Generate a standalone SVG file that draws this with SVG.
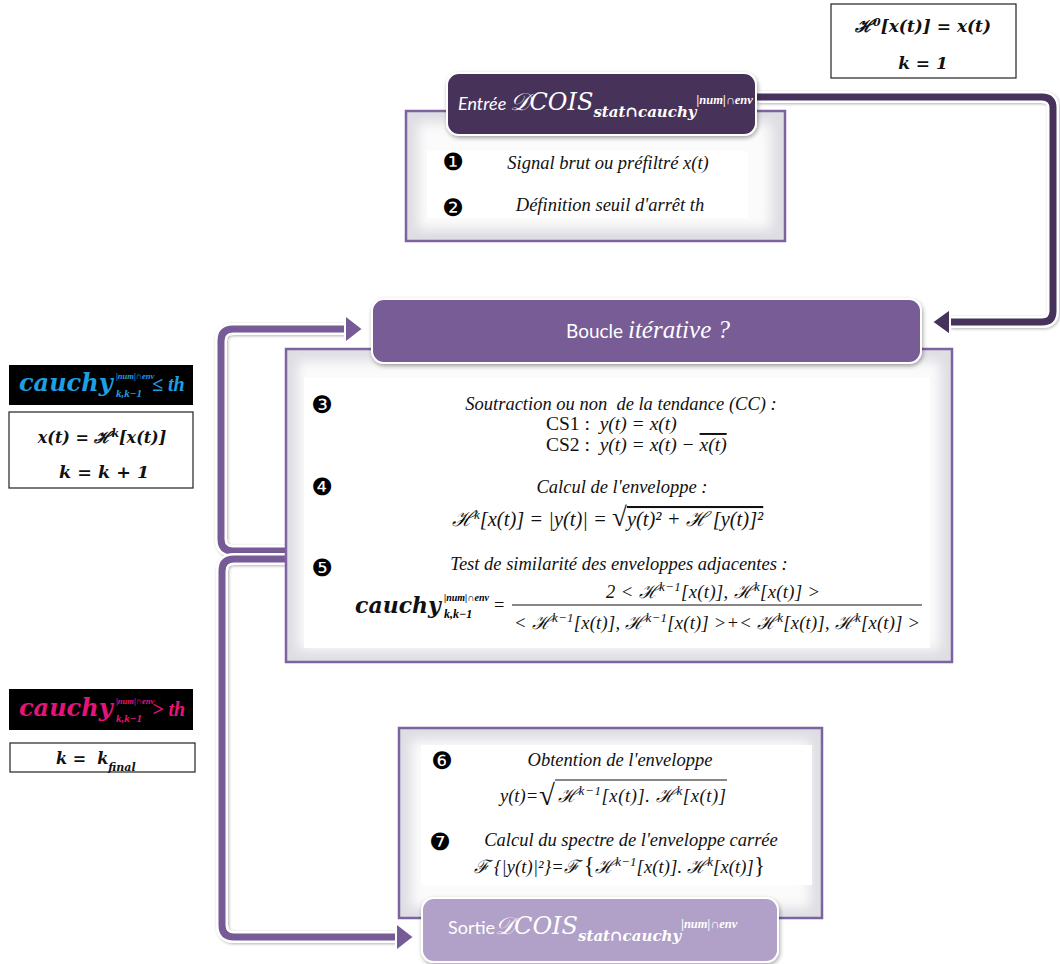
<svg xmlns="http://www.w3.org/2000/svg" width="1060" height="964" viewBox="0 0 1060 964">
<style>
.bi{font-family:'Liberation Serif','DejaVu Serif',serif;font-style:italic;font-size:18.5px;fill:#111}
.up{font-style:normal}
.sp{font-size:13px}
.m{font-family:'DejaVu Serif','Liberation Serif',serif;font-style:italic;font-weight:bold;fill:#111}
.ms{font-family:'Liberation Serif','DejaVu Serif',serif;font-style:italic;font-weight:bold}
.num{font-family:'DejaVu Sans',sans-serif;font-size:24px;fill:#000}
.hd{font-family:Lato,'Open Sans','Liberation Sans',sans-serif;fill:#fff}
.sc{font-family:'DejaVu Serif','Liberation Serif',serif;font-style:italic;fill:#fff}
.wbox{fill:#fff;stroke:#222;stroke-width:1.2}
.kbox{fill:#000}
.outer{stroke:#7d62a0;stroke-width:2.5;fill:#dedde3}
.inner{fill:#fbfbfb;filter:url(#blur)}
.txtarea{fill:#fff}
.glow{fill:none;stroke:#fff;stroke-width:12;filter:url(#lsh)}
.blue{fill:#1e9fe3}
.mag{fill:#e3147a}
.rule{stroke:#111;stroke-width:1.2}
</style>
<defs>
<filter id="blur" x="-5%" y="-5%" width="110%" height="110%"><feGaussianBlur stdDeviation="6"/></filter>
<filter id="sh" x="-10%" y="-20%" width="120%" height="150%"><feDropShadow dx="1" dy="2" stdDeviation="2" flood-color="#000" flood-opacity="0.35"/></filter>
<filter id="lsh" x="-10%" y="-10%" width="120%" height="120%"><feDropShadow dx="1" dy="1" stdDeviation="1.5" flood-color="#000" flood-opacity="0.3"/></filter>
<marker id="ahD" markerUnits="userSpaceOnUse" viewBox="-3 -17 24 34" markerWidth="24" markerHeight="34" refX="0" refY="0" orient="auto">
<path d="M0,-13 L18,0 L0,13 Z" fill="#46325a" stroke="#fff" stroke-width="2" stroke-linejoin="round"/>
</marker>
<marker id="ahP" markerUnits="userSpaceOnUse" viewBox="-3 -17 24 34" markerWidth="24" markerHeight="34" refX="0" refY="0" orient="auto">
<path d="M0,-14 L18,0 L0,14 Z" fill="#775b96" stroke="#fff" stroke-width="2" stroke-linejoin="round"/>
</marker>
</defs>
<rect width="1060" height="964" fill="#fff"/>

<g id="connectors">
<path class="glow" d="M757 97 H1042 Q1053 97 1053 108 V311 Q1053 322 1042 322 H950"/>
<path d="M757 97 H1042 Q1053 97 1053 108 V311 Q1053 322 1042 322 H950" fill="none" stroke="#46325a" stroke-width="7" marker-end="url(#ahD)"/>
<path class="glow" d="M288 551 H233 Q221 551 221 539 V341 Q221 329 233 329 H345"/>
<path d="M288 551 H233 Q221 551 221 539 V341 Q221 329 233 329 H345" fill="none" stroke="#775b96" stroke-width="7" marker-end="url(#ahP)"/>
<path class="glow" d="M288 559 H234 Q222 559 222 571 V925 Q222 937 234 937 H396"/>
<path d="M288 559 H234 Q222 559 222 571 V925 Q222 937 234 937 H396" fill="none" stroke="#775b96" stroke-width="7" marker-end="url(#ahP)"/>
</g>

<g id="init-box">
<rect class="wbox" x="831" y="4" width="185" height="74"/>
<text x="923" y="32" text-anchor="middle" class="m" font-size="17">ℋ<tspan baseline-shift="super" font-size="11">0</tspan>[x(t)] = x(t)</text>
<text x="923" y="69" text-anchor="middle" class="m" font-size="17">k = 1</text>
</g>

<g id="entree-content">
<rect class="outer" x="406" y="111" width="379" height="130"/>
<rect class="inner" x="418" y="123" width="353" height="106"/>
<rect class="txtarea" x="427" y="151" width="321" height="67"/>
<text x="453" y="170" text-anchor="middle" class="num">❶</text>
<text x="453" y="216" text-anchor="middle" class="num">❷</text>
<text x="608" y="169" text-anchor="middle" class="bi">Signal brut ou préfiltré x(t)</text>
<text x="610" y="211" text-anchor="middle" class="bi">Définition seuil d'arrêt th</text>
</g>

<g id="entree">
<rect x="447" y="73" width="309" height="62" rx="12" fill="#46325a" stroke="#fff" stroke-width="2" filter="url(#sh)"/>
<text x="458" y="110"><tspan class="hd" font-style="italic" font-size="18">Entrée </tspan><tspan class="sc" font-size="24">𝒟COIS</tspan><tspan class="sc" font-size="15" font-weight="bold" baseline-shift="-7">stat∩cauchy</tspan><tspan class="ms" fill="#fff" font-size="12.5" baseline-shift="6">|num|∩env</tspan></text>
</g>

<g id="boucle-content">
<rect class="outer" x="286" y="349" width="666" height="313"/>
<rect class="inner" x="298" y="361" width="642" height="289"/>
<rect class="txtarea" x="304" y="378" width="626" height="270"/>
<text x="322" y="413" text-anchor="middle" class="num">❸</text>
<text x="322" y="495" text-anchor="middle" class="num">❹</text>
<text x="322" y="576" text-anchor="middle" class="num">❺</text>
<text x="621" y="410" text-anchor="middle" class="bi" xml:space="preserve">Soutraction ou non  de la tendance (CC) :</text>
<text x="546" y="430" class="bi" style="font-size:19.5px" xml:space="preserve"><tspan class="up">CS1 :  </tspan>y(t) = x(t)</text>
<text x="546" y="451" class="bi" style="font-size:19.5px" xml:space="preserve"><tspan class="up">CS2 :  </tspan>y(t) = x(t) − <tspan text-decoration="overline">x(t)</tspan></text>
<text x="622" y="493" text-anchor="middle" class="bi">Calcul de l'enveloppe :</text>
<text x="452" y="526" class="bi" style="font-size:20.5px">ℋ<tspan baseline-shift="super" class="sp">k</tspan>[x(t)] = |y(t)| = <tspan class="up" font-size="27">√</tspan><tspan text-decoration="overline">y(t)² + ℋ [y(t)]²</tspan></text>
<text x="619" y="570" text-anchor="middle" class="bi">Test de similarité des enveloppes adjacentes :</text>
<text x="355" y="613" class="m" font-size="22">cauchy</text>
<text x="444" y="601" class="ms" font-size="10">|num|∩env</text>
<text x="444" y="618" class="ms" font-size="12">k,k−1</text>
<text x="494" y="611" class="bi up">=</text>
<text x="713" y="598" text-anchor="middle" class="bi" textLength="214" lengthAdjust="spacing">2 &lt; ℋ<tspan baseline-shift="super" class="sp">k−1</tspan>[x(t)], ℋ<tspan baseline-shift="super" class="sp">k</tspan>[x(t)] &gt;</text>
<line class="rule" x1="512" y1="605" x2="922" y2="605"/>
<text x="717" y="629" text-anchor="middle" class="bi" textLength="406" lengthAdjust="spacing">&lt; ℋ<tspan baseline-shift="super" class="sp">k−1</tspan>[x(t)], ℋ<tspan baseline-shift="super" class="sp">k−1</tspan>[x(t)] &gt;+&lt; ℋ<tspan baseline-shift="super" class="sp">k</tspan>[x(t)], ℋ<tspan baseline-shift="super" class="sp">k</tspan>[x(t)] &gt;</text>
</g>

<g id="boucle">
<rect x="372" y="299" width="549" height="64" rx="12" fill="#775b96" stroke="#fff" stroke-width="2" filter="url(#sh)"/>
<text x="648" y="338" text-anchor="middle" class="hd" font-size="19"><tspan>Boucle </tspan><tspan font-family="'Liberation Serif',serif" font-style="italic" font-size="25">itérative ?</tspan></text>
</g>

<g id="left-continue">
<rect class="kbox" x="9" y="365" width="184" height="40"/>
<text x="19" y="391" class="m blue" font-size="24">cauchy</text>
<text x="116" y="379" class="ms blue" font-size="8.5">|num|∩env</text>
<text x="116" y="397" class="ms blue" font-size="11">k,k−1</text>
<text x="152" y="391" class="ms blue" font-size="20">≤ th</text>
<rect class="wbox" x="9" y="412" width="184" height="76"/>
<text x="102" y="443" text-anchor="middle" class="m" font-size="16">x(t) = ℋ<tspan baseline-shift="super" font-size="11">k</tspan>[x(t)]</text>
<text x="104" y="478" text-anchor="middle" class="m" font-size="17.5">k = k + 1</text>
</g>

<g id="left-stop">
<rect class="kbox" x="9" y="689" width="184" height="41"/>
<text x="19" y="716" class="m mag" font-size="24">cauchy</text>
<text x="116" y="704" class="ms mag" font-size="8.5">|num|∩env</text>
<text x="116" y="722" class="ms mag" font-size="11">k,k−1</text>
<text x="152" y="716" class="ms mag" font-size="20">&gt; th</text>
<rect class="wbox" x="10" y="743" width="185" height="29"/>
<text x="56" y="764" class="m" font-size="16" xml:space="preserve">k =  k<tspan baseline-shift="sub" font-size="11">final</tspan></text>
</g>

<g id="sortie-content">
<rect class="outer" x="399" y="728" width="423" height="190"/>
<rect class="inner" x="411" y="740" width="399" height="168"/>
<rect class="txtarea" x="421" y="745" width="391" height="140"/>
<text x="442" y="769" text-anchor="middle" class="num">❻</text>
<text x="440" y="850" text-anchor="middle" class="num">❼</text>
<text x="620" y="766" text-anchor="middle" class="bi">Obtention de l'enveloppe</text>
<text x="500" y="802" class="bi">y(t)=</text>
<text x="539" y="805" class="bi up" style="font-size:29px">√</text>
<line class="rule" x1="555" y1="780" x2="727" y2="780"/>
<text x="558" y="802" class="bi" textLength="168" lengthAdjust="spacing">ℋ<tspan baseline-shift="super" class="sp">k−1</tspan>[x(t)]. ℋ<tspan baseline-shift="super" class="sp">k</tspan>[x(t)]</text>
<text x="631" y="846" text-anchor="middle" class="bi">Calcul du spectre de l'enveloppe carrée</text>
<text x="474" y="873" class="bi" textLength="291" lengthAdjust="spacing">ℱ {|y(t)|²}=ℱ <tspan class="up" font-size="23">{</tspan>ℋ<tspan baseline-shift="super" class="sp">k−1</tspan>[x(t)]. ℋ<tspan baseline-shift="super" class="sp">k</tspan>[x(t)]<tspan class="up" font-size="23">}</tspan></text>
</g>

<g id="sortie">
<rect x="422" y="898" width="356" height="64" rx="12" fill="#b1a0c7" stroke="#fff" stroke-width="2" filter="url(#sh)"/>
<text x="448" y="934"><tspan class="hd" font-size="18">Sortie</tspan><tspan class="sc" font-size="24">𝒟COIS</tspan><tspan class="sc" font-size="15" font-weight="bold" baseline-shift="-7">stat∩cauchy</tspan><tspan class="ms" fill="#fff" font-size="12.5" baseline-shift="6">|num|∩env</tspan></text>
</g>
</svg>
